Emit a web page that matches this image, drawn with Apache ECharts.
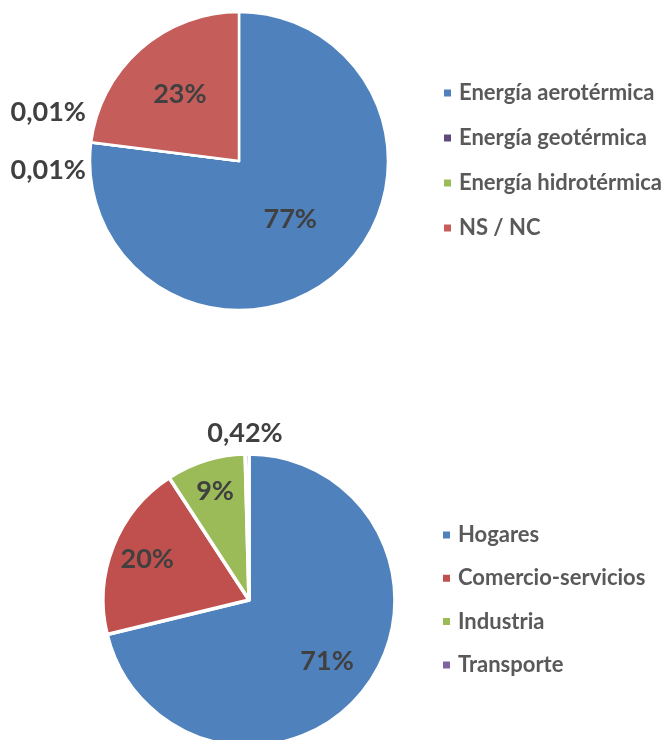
<!DOCTYPE html>
<html>
<head>
<meta charset="utf-8">
<script src="https://cdn.jsdelivr.net/npm/echarts@6/dist/echarts.min.js"></script>
<style>
  html, body { margin: 0; padding: 0; background: #fff; }
  #chart { width: 668px; height: 740px; }
</style>
</head>
<body>
<div id="chart"></div>
<script>
// tipo de energía (%)
const energyNames = ['Energía aerotérmica', 'Energía geotérmica', 'Energía hidrotérmica', 'NS / NC'];
const energyValues = [76.98, 0.01, 0.01, 23.0];
const energyColors = ['#4F81BD', '#604A7B', '#9BBB59', '#C55E5B'];

// sector (%)
const sectorNames = ['Hogares', 'Comercio-servicios', 'Industria', 'Transporte'];
const sectorValues = [71.2, 19.6, 8.78, 0.42];
const sectorColors = ['#4F81BD', '#C0504D', '#9BBB59', '#8064A2'];

const font = 'Lato, "Open Sans", sans-serif';

const topCenter = [239, 161], topR = 149;
const botCenter = [249, 600], botR = 146;

function fmt(v) {
  if (v < 1) return v.toFixed(2).replace('.', ',') + '%';
  return Math.round(v) + '%';
}

function pieData(names, values, colors) {
  return names.map((n, i) => {
    const item = { name: n, value: values[i], itemStyle: { color: colors[i] } };
    if (values[i] < 1) {
      item.label = { position: 'outside' };
      item.labelLine = { show: false, length: 8, length2: 0 };
    }
    return item;
  });
}

// push inside labels outward like Excel does (fraction of radius)
function layoutFor(center, r, ratios, outside) {
  return function (params) {
    const i = params.dataIndex;
    if (outside[i]) return outside[i];
    const rc = params.labelRect;
    const lx = rc.x + rc.width / 2, ly = rc.y + rc.height / 2;
    const dx = lx - center[0], dy = ly - center[1];
    const d = Math.sqrt(dx * dx + dy * dy) || 1;
    const k = ratios[i] * r / d;
    return { x: center[0] + dx * k, y: center[1] + dy * k, align: 'center', verticalAlign: 'middle' };
  };
}

const labelStyle = {
  show: true,
  position: 'inside',
  formatter: (p) => fmt(p.value),
  color: '#404040',
  fontFamily: font,
  fontWeight: 'bold',
  fontSize: 27
};

const legendText = {
  color: '#595959',
  fontFamily: font,
  fontWeight: 'bold',
  fontSize: 22,
  lineHeight: 22,
  padding: [0, 0, 0, 2]
};

const chart = echarts.init(document.getElementById('chart'));
chart.setOption({
  animation: false,
  legend: [
    {
      data: energyNames,
      orient: 'vertical',
      left: 442,
      top: 82,
      padding: 0,
      icon: 'rect',
      itemWidth: 9,
      itemHeight: 9,
      itemGap: 23,
      textStyle: legendText
    },
    {
      data: sectorNames,
      orient: 'vertical',
      left: 441,
      top: 524,
      padding: 0,
      icon: 'rect',
      itemWidth: 9,
      itemHeight: 9,
      itemGap: 21.3,
      textStyle: legendText
    }
  ],
  series: [
    {
      type: 'pie',
      center: topCenter,
      radius: topR,
      startAngle: 90,
      clockwise: true,
      avoidLabelOverlap: false,
      itemStyle: { borderColor: '#fff', borderWidth: 2.5 },
      label: labelStyle,
      labelLayout: layoutFor(topCenter, topR, [0.52, 0, 0, 0.6], {
        1: { x: topCenter[0] - 153, y: topCenter[1] - 49, align: 'right', verticalAlign: 'middle' },
        2: { x: topCenter[0] - 153, y: topCenter[1] + 9, align: 'right', verticalAlign: 'middle' }
      }),
      data: pieData(energyNames, energyValues, energyColors)
    },
    {
      type: 'pie',
      center: botCenter,
      radius: botR,
      startAngle: 90,
      clockwise: true,
      avoidLabelOverlap: false,
      itemStyle: { borderColor: '#fff', borderWidth: 3.5 },
      label: labelStyle,
      labelLayout: layoutFor(botCenter, botR, [0.68, 0.75, 0.78, 0], {
        3: { x: botCenter[0] - 4, y: botCenter[1] - 167, align: 'center', verticalAlign: 'middle' }
      }),
      data: pieData(sectorNames, sectorValues, sectorColors)
    }
  ]
});
</script>
</body>
</html>
